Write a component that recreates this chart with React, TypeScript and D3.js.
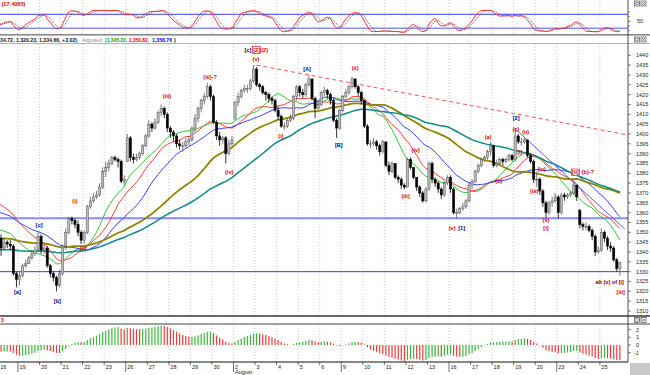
import React from "react";
import * as d3 from "d3";

// ---------- DATA ----------
const dayLabels = ["16","19","20","21","22","23","26","27","28","29","30","2","3","4","5","6","9","10","11","12","13","16","17","18","19","20","23","24","25"];
const mondays = [1, 6, 11, 16, 21, 26];
const monthLabelDay = 11; // "August"
const monthLabel = "August";

const closes: number[][] = [
  [1347,1342,1345,1344,1343,1329,1326],
  [1328,1333,1334,1337,1339,1341,1348],
  [1341,1342,1333,1329,1327,1323,1329],
  [1343,1350,1357,1356,1354,1350,1346],
  [1350,1363,1366,1368,1369,1373,1381],
  [1383,1385,1388,1387,1386,1376,1377],
  [1398,1388,1387,1388,1390,1394,1399],
  [1405,1403,1406,1411,1413,1410,1403],
  [1401,1399,1395,1394,1394,1396,1397],
  [1403,1408,1413,1417,1419,1424,1419],
  [1406,1399,1397,1398,1390,1395,1397],
  [1416,1419,1422,1423,1423,1427,1433],
  [1425,1424,1421,1420,1418,1417,1412],
  [1409,1404,1404,1407,1408,1419,1424],
  [1421,1420,1425,1428,1418,1413,1415],
  [1421,1422,1420,1417,1407,1403,1412],
  [1419,1421,1424,1428,1424,1421,1417],
  [1404,1395,1395,1396,1394,1391,1396],
  [1384,1381,1385,1378,1377,1374,1373],
  [1387,1383,1378,1373,1370,1366,1372],
  [1385,1377,1375,1372,1369,1375,1378],
  [1372,1360,1360,1362,1363,1366,1374],
  [1376,1381,1384,1387,1388,1391,1394],
  [1384,1385,1387,1386,1387,1389,1387],
  [1399,1396,1396,1397,1389,1386,1377],
  [1377,1371,1365,1360,1365,1366,1368],
  [1360,1369,1368,1369,1370,1374,1368],
  [1354,1353,1353,1351,1348,1340,1341],
  [1350,1347,1343,1342,1336,1331.64,1334.66],
];
const highs: number[][] = [
  [1350,1349,1347,1346,1346,1344,1330],
  [1330,1334,1336,1338,1341,1343,1350],
  [1349,1344,1343,1334,1330,1328,1331],
  [1344,1352,1358,1358,1357,1356,1351],
  [1351,1364,1368,1370,1371,1375,1383],
  [1386,1387,1389,1389,1388,1387,1379],
  [1400,1399,1390,1390,1391,1395,1400],
  [1407,1406,1408,1412,1415,1414,1411],
  [1404,1402,1400,1397,1396,1398,1399],
  [1404,1410,1414,1418,1421,1426,1425],
  [1420,1407,1401,1399,1399,1397,1399],
  [1417,1421,1423,1425,1425,1428,1435],
  [1434,1426,1425,1422,1421,1419,1418],
  [1414,1410,1406,1408,1410,1420,1425],
  [1425,1423,1426,1430,1428,1419,1417],
  [1422,1424,1423,1421,1418,1408,1413],
  [1420,1423,1425,1429,1428,1425,1422],
  [1417,1405,1397,1398,1397,1395,1397],
  [1389,1386,1386,1385,1379,1378,1375],
  [1388,1388,1383,1378,1374,1371,1373],
  [1386,1386,1378,1376,1373,1376,1379],
  [1379,1373,1362,1363,1365,1367,1375],
  [1377,1382,1385,1388,1389,1392,1396],
  [1394,1387,1388,1388,1388,1390,1390],
  [1403,1400,1398,1398,1397,1390,1387],
  [1381,1378,1372,1366,1366,1368,1370],
  [1369,1370,1370,1370,1371,1376,1374],
  [1362,1355,1355,1354,1352,1349,1343],
  [1352,1351,1348,1345,1343,1337,1335],
];
const lows: number[][] = [
  [1345,1338,1341,1342,1341,1328,1322],
  [1323,1327,1332,1334,1336,1338,1340],
  [1339,1339,1332,1327,1325,1320,1322],
  [1328,1341,1349,1354,1352,1348,1344],
  [1344,1349,1362,1365,1367,1368,1372],
  [1378,1381,1384,1386,1383,1375,1374],
  [1386,1386,1385,1386,1387,1389,1393],
  [1398,1401,1402,1405,1409,1408,1401],
  [1398,1396,1393,1392,1391,1393,1394],
  [1396,1401,1406,1411,1415,1418,1417],
  [1405,1397,1394,1395,1385,1389,1394],
  [1407,1414,1418,1421,1421,1422,1426],
  [1424,1422,1420,1417,1416,1415,1411],
  [1407,1403,1402,1403,1406,1407,1417],
  [1419,1418,1419,1424,1417,1408,1412],
  [1414,1419,1418,1415,1406,1398,1402],
  [1411,1418,1420,1423,1423,1419,1415],
  [1403,1394,1393,1394,1392,1389,1390],
  [1383,1379,1380,1377,1375,1372,1372],
  [1373,1382,1377,1371,1368,1365,1365],
  [1371,1375,1373,1370,1367,1368,1374],
  [1370,1359,1357,1359,1361,1362,1365],
  [1372,1375,1380,1383,1386,1387,1389],
  [1383,1383,1384,1384,1385,1386,1386],
  [1386,1395,1394,1395,1388,1385,1375],
  [1373,1369,1363,1357,1359,1363,1365],
  [1357,1359,1366,1367,1368,1369,1366],
  [1352,1351,1351,1350,1346,1338,1339],
  [1340,1345,1341,1340,1335,1330,1328],
];
const firstOpen = 1350;
const gapOpens: [number, number][] = [[42, 1386], [77, 1408], [189, 1361]];

// simple moving averages; the level each line shows at the left edge stands in for older bars
const maPeriods = [15, 20, 30, 50, 70];
const maLeftLevels = [1352, 1366, 1361, 1347, 1341];
const maColors = ["#2fc42f", "#ff3a3a", "#3a3aff", "#8f8500", "#0a8a84"];
const maWidths = [1, 1, 1, 1.8, 1.5];

// oscillator (lower panel)
const macdPeriods = [12, 26];
const macdSeeds = [1350, 1354];
const macdScale = 0.2;
const macdTicks = [2, 1, 0, -1];

// stochastic
const stochPeriod = 14;
const stochTicks = [50];
const stochLevels = [80, 20];
const stochTitle = "(17.4065)";

// horizontal levels, trendlines
const hLevels = [1357.1, 1330];
const redTrend: [number, number][] = [[84, 1435], [204.5, 1399.5]];
const blueTrend: [number, number][] = [[168.4, 1402], [203.6, 1351.7]];

const priceTicks = d3.range(1310, 1441, 5);

const waveLabels: [string, number, number, string][] = [
  ["[a]", 6.3, 1319.8, "n"],
  ["[b]", 19.3, 1315.1, "n"],
  ["[c]", 13.4, 1353.7, "n"],
  ["(i)", 25.0, 1366, "r"],
  ["(ii)", 27.7, 1341.9, "r"],
  ["(iii)", 54.9, 1419.5, "r"],
  ["(iii)-?", 68.9, 1429.1, "r"],
  ["(iv)", 75.1, 1380.5, "r"],
  ["[c]", 81.2, 1442.7, "n"],
  ["(2)", 86.6, 1442.7, "r"],
  ["(v)", 83.8, 1438.1, "r"],
  ["(i)", 91.9, 1399.1, "r"],
  ["[A]", 100.4, 1432.9, "n"],
  ["(ii)", 116.0, 1433.4, "r"],
  ["[B]", 110.7, 1394.4, "n"],
  ["(iv)", 135.7, 1391.7, "r"],
  ["(iii)", 132.4, 1368.6, "r"],
  ["(v)", 147.5, 1352.4, "r"],
  ["[1]", 150.6, 1352.4, "n"],
  ["(a)", 159.2, 1398.6, "r"],
  ["(b)", 162.7, 1376.1, "r"],
  ["[2]", 168.3, 1408.3, "n"],
  ["(c)", 168.2, 1402.5, "r"],
  ["(ii)", 171.4, 1401.2, "r"],
  ["(i)", 169.5, 1391, "r"],
  ["(iv)", 176.6, 1382.2, "r"],
  ["(iii)", 174.2, 1371.2, "r"],
  ["(v)", 178.0, 1356.3, "r"],
  ["[i]", 178.0, 1352.4, "r"],
  ["(b)-?", 191.6, 1380.5, "r"],
  ["alt (v) of [i]", 198.7, 1324.9, "d"],
  ["[iii]", 202.3, 1319.6, "r"],
];
const boxedLabels: [string, number, number][] = [
  ["[2]", 84.0, 1442.7],
  ["[ii]", 187.6, 1380.5],
];

// ---------- helpers ----------
function ema(vals: number[], period: number, seed: number) {
  const k = 2 / (period + 1);
  let e = seed;
  return vals.map((v) => (e = e + k * (v - e)));
}
function sma(a: number[], p: number) {
  return a.map((_, i) => d3.mean(a.slice(Math.max(0, i - p + 1), i + 1)) as number);
}
function smaLeft(a: number[], p: number, left: number) {
  return a.map((_, i) => {
    let s = 0;
    for (let j = i - p + 1; j <= i; j++) s += j < 0 ? left : a[j];
    return s / p;
  });
}

const FONT = "'Liberation Sans', Arial, sans-serif";
const labelColor: Record<string, string> = { n: "#000080", r: "#d40000", d: "#7a0000" };

export default function App() {
  const C = closes.flat();
  const H0 = highs.flat();
  const L0 = lows.flat();
  const n = C.length;
  const O = C.map((c, i) => (i === 0 ? firstOpen : C[i - 1]));
  gapOpens.forEach(([i, o]) => (O[i] = o));
  const HH = H0.map((h, i) => Math.max(h, O[i], C[i]));
  const LL = L0.map((l, i) => Math.min(l, O[i], C[i]));

  const AX = 628;
  const x = d3.scaleLinear().domain([0, n]).range([-3.55, 621.4]);
  const xc = (i: number) => x(i + 0.5);
  const y = d3.scaleLinear().domain([1310, 1440]).range([311, 55.3]);
  const ys = d3.scaleLinear().domain([0, 100]).range([33.0, 9.6]);
  const ym = d3.scaleLinear().domain([-1, 2]).range([352.7, 329.6]);

  const mas = maPeriods.map((p, j) => smaLeft(C, p, maLeftLevels[j]));
  const fast = ema(C, macdPeriods[0], macdSeeds[0]);
  const slow = ema(C, macdPeriods[1], macdSeeds[1]);
  const macd = fast.map((f, i) => (f - slow[i]) * macdScale);

  const raw = C.map((c, i) => {
    const s = Math.max(0, i - stochPeriod + 1);
    const hi = d3.max(HH.slice(s, i + 1)) as number;
    const lo = d3.min(LL.slice(s, i + 1)) as number;
    return hi === lo ? 50 : ((c - lo) / (hi - lo)) * 100;
  });
  const stK = sma(raw, 3);
  const stD = sma(stK, 3);

  const lineP = d3.line<number>().x((_, i) => xc(i)).y((d) => y(d));
  const lineS = d3.line<number>().x((_, i) => xc(i)).y((d) => ys(d)).curve(d3.curveMonotoneX);

  const days = dayLabels.map((_, d) => d);

  const trend = (t: [number, number][]) => {
    const [a, b] = t;
    return { x1: xc(a[0]), y1: y(a[1]), x2: xc(b[0]), y2: y(b[1]) };
  };
  const rt = trend(redTrend);
  const bt = trend(blueTrend);

  const icons = (yy: number) => (
    <g>
      <rect x={634.5} y={yy} width={5} height={5} fill="#fff" stroke="#333" strokeWidth={0.6} />
      <rect x={635.8} y={yy + 1.3} width={2.4} height={2.4} fill="none" stroke="#333" strokeWidth={0.5} />
      <rect x={641} y={yy} width={5} height={5} fill="#fff" stroke="#333" strokeWidth={0.6} />
      <path d={`M${642},${yy + 1} L${645},${yy + 4} M${645},${yy + 1} L${642},${yy + 4}`} stroke="#333" strokeWidth={0.6} />
    </g>
  );

  return (
    <svg width={650} height={375} style={{ position: "absolute", left: 0, top: 0, background: "#fff" }} fontFamily={FONT}>
      <defs>
        <clipPath id="cpS"><rect x={0} y={0} width={AX} height={34} /></clipPath>
        <clipPath id="cpM"><rect x={0} y={43.5} width={AX} height={271} /></clipPath>
        <clipPath id="cpH"><rect x={0} y={325} width={AX} height={37} /></clipPath>
      </defs>
      <rect x={0} y={0} width={650} height={375} fill="#fff" />

      {/* vertical day gridlines */}
      {days.map((d) => (
        <g key={"g" + d} stroke="#b4b4b4" strokeWidth={0.7} strokeDasharray="1,2">
          <line x1={x(d * 7)} x2={x(d * 7)} y1={0} y2={34} />
          <line x1={x(d * 7)} x2={x(d * 7)} y1={44} y2={315} />
          <line x1={x(d * 7)} x2={x(d * 7)} y1={325} y2={362} />
        </g>
      ))}

      {/* ---------- stochastic panel ---------- */}
      <g clipPath="url(#cpS)">
        <line x1={0} x2={AX} y1={ys(stochLevels[0])} y2={ys(stochLevels[0])} stroke="#3a3aff" strokeWidth={1} />
        <line x1={0} x2={AX} y1={ys(stochLevels[1])} y2={ys(stochLevels[1])} stroke="#8c8cff" strokeWidth={1.6} />
        <path d={lineS(stD) || ""} fill="none" stroke="#333" strokeWidth={0.8} strokeDasharray="1,1" />
        <path d={lineS(stK) || ""} fill="none" stroke="#ff2a2a" strokeWidth={1} />
      </g>
      <text x={1.5} y={5.5} fontSize={5.6} fontWeight="bold" fill="#e00000">{stochTitle}</text>
      {stochTicks.map((t) => (
        <g key={"st" + t}>
          <line x1={AX} x2={AX + 3} y1={ys(t)} y2={ys(t)} stroke="#333" strokeWidth={0.6} />
          <text x={637} y={ys(t) + 2} fontSize={5.5} fill="#222">{t}</text>
        </g>
      ))}
      {[90, 70, 30, 10].map((t) => (
        <line key={"sm" + t} x1={AX} x2={AX + 2} y1={ys(t)} y2={ys(t)} stroke="#333" strokeWidth={0.5} />
      ))}
      {icons(1)}
      <rect x={0} y={34} width={650} height={1.6} fill="#8a8a8a" />

      {/* ---------- info line ---------- */}
      <g fontSize={5.6} fontWeight="bold">
        <text x={0} y={41.5} fill="#111" textLength={77} lengthAdjust="spacingAndGlyphs">34.72, 1,320.23, 1,334.66, +3.02)</text>
        <text x={82} y={41.5} fill="#8a8a8a" fontWeight="normal" textLength={20} lengthAdjust="spacingAndGlyphs">Adjusted</text>
        <text x={105} y={41.5} fill="#00a000" textLength={22} lengthAdjust="spacingAndGlyphs">(1,345.22,</text>
        <text x={129} y={41.5} fill="#e00000" textLength={20} lengthAdjust="spacingAndGlyphs">1,350.82,</text>
        <text x={152} y={41.5} fill="#0000e0" textLength={20} lengthAdjust="spacingAndGlyphs">1,358.76</text>
        <text x={174} y={41.5} fill="#111">)</text>
      </g>
      {icons(37)}
      <line x1={0} x2={650} y1={43.5} y2={43.5} stroke="#a0a0a0" strokeWidth={0.8} />

      {/* ---------- main panel ---------- */}
      <g clipPath="url(#cpM)">
        <line x1={0} x2={AX} y1={y(hLevels[0])} y2={y(hLevels[0])} stroke="#8a8aff" strokeWidth={2} />
        <line x1={0} x2={AX} y1={y(hLevels[1])} y2={y(hLevels[1])} stroke="#3a3aff" strokeWidth={1} />
        <line {...rt} stroke="#ff5050" strokeWidth={1} strokeDasharray="4,3" />
        {mas.map((m, j) => (
          <path key={"ma" + j} d={lineP(m) || ""} fill="none" stroke={maColors[j]} strokeWidth={maWidths[j]} />
        ))}
        <line {...bt} stroke="#5a5aff" strokeWidth={1} />
        {C.map((c, i) => {
          const up = c >= O[i];
          const cx = xc(i);
          const top = y(Math.max(O[i], c));
          const bot = y(Math.min(O[i], c));
          return (
            <g key={"c" + i}>
              <line x1={cx} x2={cx} y1={y(HH[i])} y2={y(LL[i])} stroke={up ? "#555" : "#000"} strokeWidth={0.8} />
              <rect x={cx - 1.1} y={top} width={2.2} height={Math.max(0.8, bot - top)}
                fill={up ? "#bdbdbd" : "#000"} stroke={up ? "#555" : "#000"} strokeWidth={0.5} />
            </g>
          );
        })}
        {waveLabels.map(([t, b, p, c], k) => (
          <text key={"w" + k} x={xc(b)} y={y(p)} dy="0.35em" textAnchor="middle" fontSize={5.6}
            fontWeight="bold" fill={labelColor[c]}>{t}</text>
        ))}
        {boxedLabels.map(([t, b, p], k) => (
          <g key={"bx" + k}>
            <rect x={xc(b) - 4} y={y(p) - 3.3} width={8} height={6.6} fill="#fff" stroke="#d40000" strokeWidth={0.6} />
            <text x={xc(b)} y={y(p)} dy="0.35em" textAnchor="middle" fontSize={5.6} fontWeight="bold" fill="#d40000">{t}</text>
          </g>
        ))}
      </g>
      {priceTicks.map((t) => (
        <g key={"pt" + t}>
          <line x1={AX} x2={AX + 3} y1={y(t)} y2={y(t)} stroke="#333" strokeWidth={0.6} />
          <text x={636} y={y(t) + 2} fontSize={5.5} fill="#222">{t}</text>
        </g>
      ))}

      {/* ---------- separator ---------- */}
      <rect x={0} y={315} width={650} height={2} fill="#6a6a6a" />
      <text x={1} y={322} fontSize={5} fontWeight="bold" fill="#e00000">3</text>
      {icons(317.5)}
      <rect x={0} y={323.2} width={650} height={1.6} fill="#8a8a8a" />

      {/* ---------- oscillator panel ---------- */}
      <g clipPath="url(#cpH)">
        {macd.map((v, i) => {
          const rising = i === 0 ? v >= 0 : v >= macd[i - 1];
          return (
            <line key={"h" + i} x1={xc(i)} x2={xc(i)} y1={ym(0)} y2={ym(v)}
              stroke={rising ? "#3cb83c" : "#f03a3a"} strokeWidth={1.2} />
          );
        })}
      </g>
      {macdTicks.map((t) => (
        <g key={"mt" + t}>
          <line x1={AX} x2={AX + 3} y1={ym(t)} y2={ym(t)} stroke="#333" strokeWidth={0.6} />
          <text x={t < 0 ? 634 : 636} y={ym(t) + 2} fontSize={5.5} fill="#222">{t}</text>
        </g>
      ))}

      {/* ---------- axes ---------- */}
      <line x1={AX} x2={AX} y1={0} y2={362} stroke="#222" strokeWidth={0.8} />
      <line x1={0} x2={AX} y1={362} y2={362} stroke="#111" strokeWidth={1} />
      {days.map((d) => {
        const xx = x(d * 7);
        const major = mondays.includes(d);
        return (
          <g key={"xt" + d}>
            <line x1={xx} x2={xx} y1={362} y2={major ? 372 : 365} stroke="#333" strokeWidth={0.7} />
            <text x={Math.max(0.3, xx + 1.5)} y={368.5} fontSize={5.5} fill="#222">{dayLabels[d]}</text>
          </g>
        );
      })}
      <text x={x(monthLabelDay * 7) + 1.5} y={374} fontSize={5.5} fill="#222">{monthLabel}</text>
      <rect x={630} y={363} width={20} height={12} fill="#c8c8c8" />
    </svg>
  );
}
